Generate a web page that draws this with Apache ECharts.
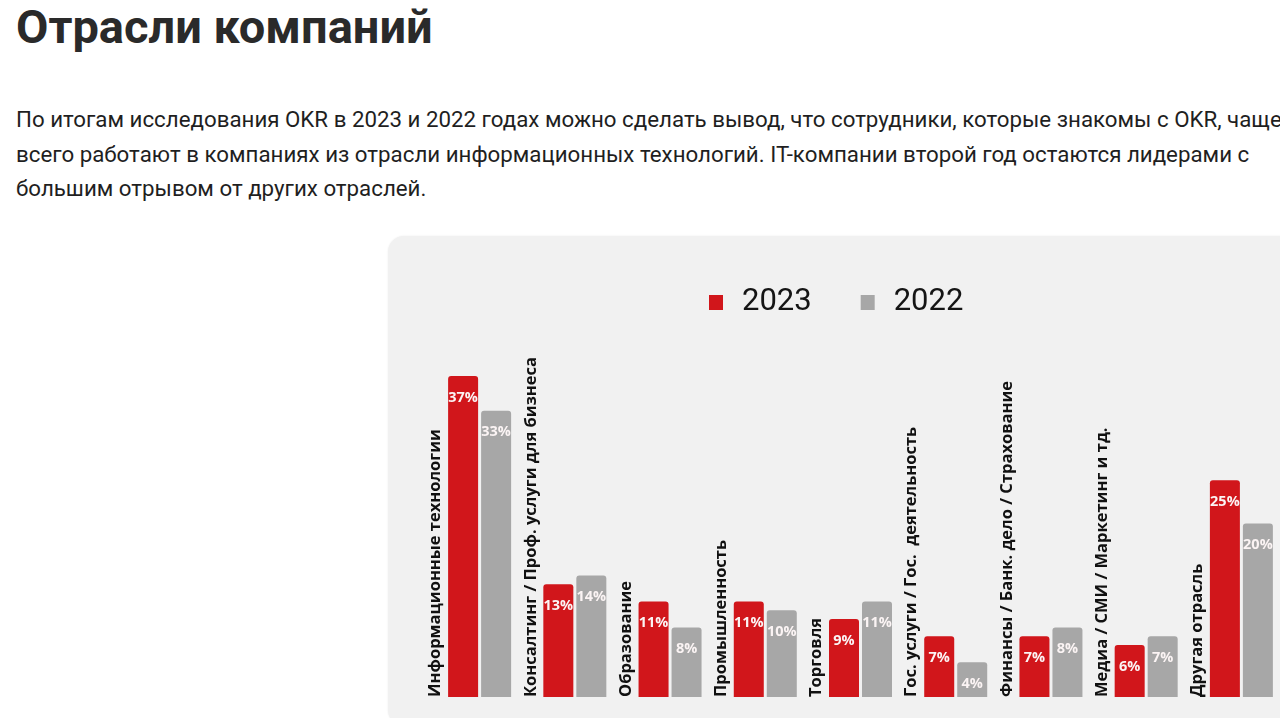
<!DOCTYPE html>
<html>
<head>
<meta charset="utf-8">
<script src="https://cdn.jsdelivr.net/npm/echarts@6/dist/echarts.min.js"></script>
<style>
  html, body { margin: 0; padding: 0; width: 1280px; height: 718px; overflow: hidden; background: #ffffff; }
  #title { position: absolute; left: 16px; top: 0px; font-family: Roboto, sans-serif; font-weight: 700; font-size: 47px; line-height: 54px; color: #2a2a2a; white-space: nowrap; }
  #para { position: absolute; left: 16px; top: 102px; font-family: Roboto, sans-serif; font-weight: 400; font-size: 22.3px; line-height: 34.5px; color: #1f1f1f; white-space: nowrap; }
  #chart { position: absolute; left: 388px; top: 236px; width: 910px; height: 490px; background: #f1f1f1; border-radius: 16px; box-shadow: 0 0 2px rgba(0,0,0,0.08); }
</style>
</head>
<body>
<div id="title">Отрасли компаний</div>
<div id="para">По итогам исследования OKR в 2023 и 2022 годах можно сделать вывод, что сотрудники, которые знакомы с OKR, чаще<br>всего работают в компаниях из отрасли информационных технологий. IT-компании второй год остаются лидерами с<br>большим отрывом от других отраслей.</div>
<div id="chart"></div>
<script>
const categories = [
  'Информационные технологии',
  'Консалтинг / Проф. услуги для бизнеса',
  'Образование',
  'Промышленность',
  'Торговля',
  'Гос. услуги / Гос.  деятельность',
  'Финансы / Банк. дело / Страхование',
  'Медиа / СМИ / Маркетинг и тд.',
  'Другая отрасль'
];
const values2023 = [37, 13, 11, 11, 9, 7, 7, 6, 25];
const values2022 = [33, 14, 8, 10, 11, 4, 8, 7, 20];
const seriesNames = ['2023', '2022'];

const chart = echarts.init(document.getElementById('chart'), null, { renderer: 'canvas' });

const valueLabel = {
  show: true,
  position: 'insideTop',
  distance: 14,
  formatter: '{c}%',
  color: '#fbf4f4',
  fontFamily: 'Open Sans',
  fontWeight: 'bold',
  fontSize: 14.5
};

chart.setOption({
  backgroundColor: 'transparent',
  animation: false,
  legend: {
    data: seriesNames,
    left: 321,
    top: 51,
    padding: 0,
    icon: 'rect',
    itemWidth: 14,
    itemHeight: 15,
    itemGap: 49,
    textStyle: {
      fontFamily: 'Roboto',
      fontSize: 31,
      color: '#151515',
      padding: [0, 0, 0, 14]
    }
  },
  grid: { left: 44, width: 857, top: 114, bottom: 29 },
  xAxis: {
    type: 'category',
    data: categories,
    axisLine: { show: false },
    axisTick: { show: false },
    axisLabel: {
      interval: 0,
      inside: true,
      rotate: 90,
      margin: 0,
      align: 'left',
      verticalAlign: 'bottom',
      lineHeight: 20,
      padding: [0, 0, 34, 0],
      fontFamily: 'Open Sans',
      fontWeight: 'bold',
      fontSize: 16.5,
      color: '#111111'
    }
  },
  yAxis: {
    type: 'value',
    min: 0,
    max: 40,
    show: false,
    splitLine: { show: false }
  },
  series: [
    {
      name: seriesNames[0],
      type: 'bar',
      data: values2023,
      barWidth: 30,
      barGap: '10%',
      itemStyle: { color: '#d1161b', borderRadius: [3, 3, 0, 0] },
      label: valueLabel
    },
    {
      name: seriesNames[1],
      type: 'bar',
      data: values2022,
      barWidth: 30,
      barGap: '10%',
      itemStyle: { color: '#a7a7a7', borderRadius: [3, 3, 0, 0] },
      label: valueLabel
    }
  ]
});
</script>
</body>
</html>
